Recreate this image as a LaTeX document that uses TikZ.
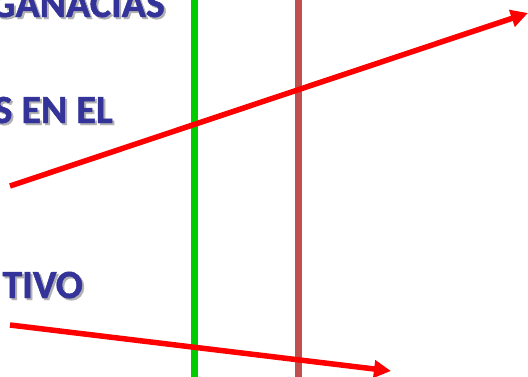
\documentclass[tikz,border=0pt]{standalone}
\usepackage{fontspec}
\setmainfont{Carlito}[BoldFeatures={FakeBold=1.2}]
\usetikzlibrary{arrows.meta}
\definecolor{txtblue}{RGB}{51,51,153}
\definecolor{vgreen}{RGB}{0,204,0}
\definecolor{vbrown}{RGB}{192,80,77}
\tikzset{
  lbl/.style={font=\bfseries\fontsize{40}{44}\selectfont, text=txtblue, anchor=base east, inner sep=0pt},
  lblshadow/.style={font=\bfseries\fontsize{40}{44}\selectfont, text=black!30, anchor=base east, inner sep=0pt},
  vline/.style={line width=7pt},
  redarrow/.style={draw=red, line width=5.5pt, -{Triangle[length=17pt,width=17pt]}}
}
\begin{document}
\begin{tikzpicture}[x=1pt,y=-1pt]
\useasboundingbox (0,0) rectangle (528,376);
\clip (0,0) rectangle (528,376);
% texts with shadow
\node[lblshadow] at (167,19) {GANACIAS};
\node[lbl] (t1) at (165,17) {GANACIAS};
\node[lblshadow] at (115,125) {S EN EL};
\node[lbl] (t2) at (113,123) {S EN EL};
\node[lblshadow] at (85,300) {TIVO};
\node[lbl] (t3) at (83,298) {TIVO};
% vertical lines
\coordinate (g1) at (194.5,-2);
\coordinate (g2) at (194.5,378);
\coordinate (b1) at (298.5,-2);
\coordinate (b2) at (298.5,378);
\draw[vline, vgreen] (g1) -- (g2);
\draw[vline, vbrown] (b1) -- (b2);
% arrows
\coordinate (a1s) at (10,186);
\coordinate (a1e) at (528,13);
\coordinate (a2s) at (10,325);
\coordinate (a2e) at (391,371);
\draw[redarrow] (a1s) -- (a1e);
\draw[redarrow] (a2s) -- (a2e);
\end{tikzpicture}
\end{document}
